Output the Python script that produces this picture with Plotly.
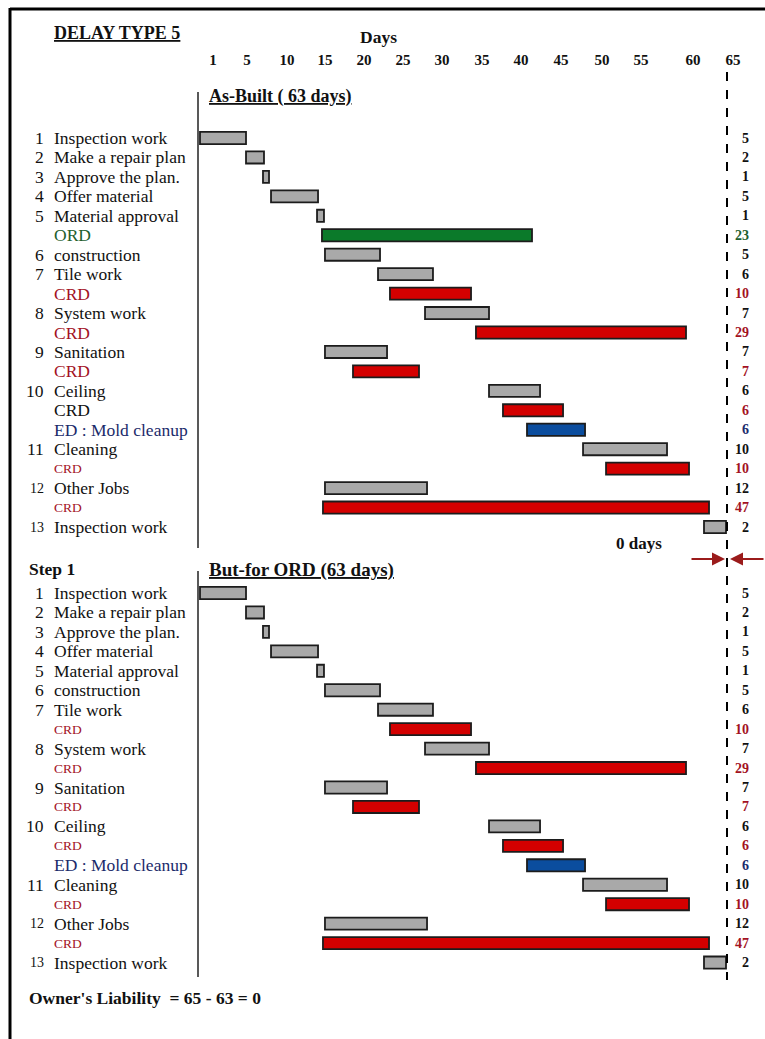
import plotly.graph_objects as go

# ---------------- data ----------------
tick_labels = ["1", "5", "10", "15", "20", "25", "30", "35", "40", "45", "50", "55", "60", "65"]
tick_days = [1.55, 5.62, 10.40, 14.94, 19.6, 24.27, 28.93, 33.71, 38.37, 43.16, 48.06, 52.72, 58.94, 63.72]

task_nums = ["1", "2", "3", "4", "5", "", "6", "7", "", "8", "", "9", "", "10", "", "", "11", "", "12", "", "13"]
task_names = ["Inspection work", "Make a repair plan", "Approve the plan.", "Offer material",
              "Material approval", "ORD", "construction", "Tile work", "CRD", "System work", "CRD",
              "Sanitation", "CRD", "Ceiling", "CRD", "ED : Mold cleanup", "Cleaning", "CRD",
              "Other Jobs", "CRD", "Inspection work"]
task_kinds = ["task", "task", "task", "task", "task", "ORD", "task", "task", "CRD", "task", "CRD",
              "task", "CRD", "task", "CRD", "ED", "task", "CRD", "task", "CRD", "task"]
task_start = [0.0, 5.50, 7.53, 8.49, 13.99, 14.58, 14.94, 21.28, 22.71, 26.90, 32.99,
              14.94, 18.29, 34.55, 36.22, 39.09, 45.79, 48.54, 14.94, 14.70, 60.25]
task_end = [5.50, 7.65, 8.25, 14.11, 14.82, 39.69, 21.52, 27.85, 32.40, 34.55, 58.10,
            22.36, 26.18, 40.65, 43.40, 46.03, 55.83, 58.46, 27.14, 60.85, 62.88]
task_days = [5, 2, 1, 5, 1, 23, 5, 6, 10, 7, 29, 7, 7, 6, 6, 6, 10, 10, 12, 47, 2]

as_built_days = 63
but_for_days = 63
liability_text = "Owner's Liability  = 65 - 63 = 0"

# ---------------- layout helpers ----------------
W, H = 765, 1039
PX0 = 200.0                 # pixel of day 0
PXD = 527.0 / 63.0          # pixels per day
ROW = 19.45                 # pixels per row
ROW0 = 138.0                # pixel of first row (top chart)
BOT_OFF = (593.0 - ROW0) / ROW   # row offset of the second chart

FONT = "Liberation Serif"
BAR_COL = {"task": "#a9a9a9", "ORD": "#0b7a2a", "CRD": "#d40000", "ED": "#0b4d9e"}
TXT_COL = {"task": "#111111", "ORD": "#1f5f2f", "CRD": "#a3121f", "ED": "#1b2b6b"}


def xp(px):
    return px / W


def yp(py):
    return 1 - py / H


# second chart: as-built without the ORD
keep = [i for i, k in enumerate(task_kinds) if k != "ORD"]
sections = [
    dict(rows=list(range(len(task_kinds))), idx=list(range(len(task_kinds))), top=True),
    dict(rows=[BOT_OFF + j for j in range(len(keep))], idx=keep, top=False),
]

fig = go.Figure()
annotations = []

for sec in sections:
    for kind in ["task", "ORD", "CRD", "ED"]:
        sel = [(r, i) for r, i in zip(sec["rows"], sec["idx"]) if task_kinds[i] == kind]
        if not sel:
            continue
        fig.add_trace(go.Bar(
            orientation="h",
            y=[r for r, _ in sel],
            base=[task_start[i] for _, i in sel],
            x=[task_end[i] - task_start[i] for _, i in sel],
            width=0.62,
            marker=dict(color=BAR_COL[kind], line=dict(color="#1c1c1c", width=1.8)),
            showlegend=False,
            hoverinfo="skip",
        ))
    crd_count = 0
    for r, i in zip(sec["rows"], sec["idx"]):
        kind = task_kinds[i]
        # left number
        if task_nums[i]:
            nsize = 14 if task_nums[i] in ("12", "13") else 17.5
            annotations.append(dict(
                x=xp(46), y=r, xref="paper", yref="y", xanchor="right", yanchor="middle",
                text=task_nums[i], showarrow=False,
                font=dict(family=FONT, size=nsize, color="#111111")))
        # left name
        size = 17.5
        color = TXT_COL[kind]
        if kind == "CRD":
            crd_count += 1
            if sec["top"]:
                if crd_count == 4:
                    color = "#111111"
                if crd_count >= 5:
                    size = 13.5
            else:
                size = 13.5
        annotations.append(dict(
            x=xp(52), y=r, xref="paper", yref="y", xanchor="left", yanchor="middle",
            text=task_names[i], showarrow=False,
            font=dict(family=FONT, size=size, color=color)))
        # right duration
        annotations.append(dict(
            x=xp(751), y=r, xref="paper", yref="y", xanchor="right", yanchor="middle",
            text="<b>%d</b>" % task_days[i], showarrow=False,
            font=dict(family=FONT, size=14, color=TXT_COL[kind])))


# headings
def head(text, px, py, size=17.5, anchor="left", color="#111111"):
    annotations.append(dict(
        x=xp(px), y=yp(py), xref="paper", yref="paper", xanchor=anchor, yanchor="middle",
        text=text, showarrow=False, font=dict(family=FONT, size=size, color=color)))


head("<b><u>DELAY TYPE 5</u></b>", 52, 33, 18)
head("<b>Days</b>", 378, 37, 17.5, "center")
head("<b><u>As-Built ( %d days)</u></b>" % as_built_days, 207, 97, 18)
head("<b>Step 1</b>", 27, 569, 17.5)
head("<b><u>But-for ORD (%d days)</u></b>" % but_for_days, 207, 570, 19)
head("<b>%d days</b>" % (as_built_days - but_for_days), 639, 543, 17, "center")
head("<b>%s</b>" % liability_text, 27, 998, 17.5)

# arrows
AR = "#9b1b1b"
annotations.append(dict(x=xp(725), y=yp(559), xref="paper", yref="paper", text="",
                        showarrow=True, ax=-35, ay=0, arrowhead=2, arrowsize=1.3,
                        arrowwidth=2, arrowcolor=AR))
annotations.append(dict(x=xp(730), y=yp(559), xref="paper", yref="paper", text="",
                        showarrow=True, ax=36, ay=0, arrowhead=2, arrowsize=1.3,
                        arrowwidth=2, arrowcolor=AR))

shapes = [
    # frame
    dict(type="line", xref="paper", yref="paper", x0=xp(10), x1=1, y0=yp(9), y1=yp(9),
         line=dict(color="#000", width=3)),
    dict(type="line", xref="paper", yref="paper", x0=xp(10), x1=xp(10), y0=yp(8), y1=0,
         line=dict(color="#000", width=3)),
    # separators
    dict(type="line", xref="paper", yref="paper", x0=xp(198), x1=xp(198), y0=yp(92), y1=yp(548),
         line=dict(color="#222", width=1.5)),
    dict(type="line", xref="paper", yref="paper", x0=xp(198), x1=xp(198), y0=yp(571), y1=yp(977),
         line=dict(color="#222", width=1.5)),
    # project end
    dict(type="line", xref="x", yref="paper", x0=as_built_days, x1=as_built_days,
         y0=yp(72), y1=yp(980), line=dict(color="#000", width=2, dash="dash")),
]

fig.update_layout(
    width=W, height=H,
    margin=dict(l=0, r=0, t=0, b=0),
    paper_bgcolor="white", plot_bgcolor="white",
    barmode="overlay",
    showlegend=False,
    annotations=annotations,
    shapes=shapes,
    xaxis=dict(
        range=[-PX0 / PXD, (W - PX0) / PXD],
        side="top", anchor="free", position=yp(68),
        tickmode="array", tickvals=tick_days, ticktext=tick_labels,
        tickfont=dict(family=FONT, size=15, color="#111", weight="bold"),
        ticks="", showgrid=False, zeroline=False, showline=False,
    ),
    yaxis=dict(
        range=[(H - ROW0) / ROW, -ROW0 / ROW],
        visible=False, showgrid=False, zeroline=False,
    ),
)

fig.write_html("out.html", config={"displayModeBar": False, "staticPlot": True},
               post_script="document.body.style.margin='0';document.body.style.overflow='hidden';")
